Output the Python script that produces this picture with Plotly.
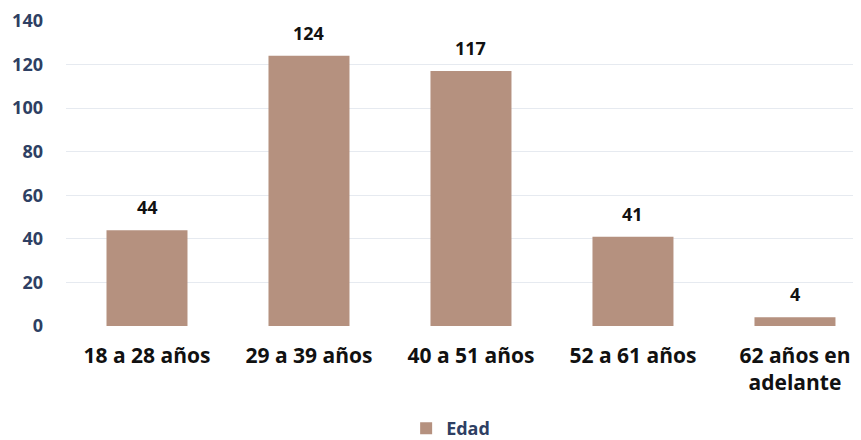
import plotly.graph_objects as go

categories = ["18 a 28 años", "29 a 39 años", "40 a 51 años", "52 a 61 años", "62 años en<br>adelante"]
values = [44, 124, 117, 41, 4]
series_name = "Edad"
y_ticks = [0, 20, 40, 60, 80, 100, 120, 140]

BAR = "#b5917f"
NAVY = "#2e3f63"

fig = go.Figure()
fig.add_trace(go.Bar(
    x=categories, y=values, name=series_name,
    marker=dict(color=BAR, line=dict(width=0)),
))

for c, v in zip(categories, values):
    fig.add_annotation(x=c, y=v, text=str(v), showarrow=False, yanchor="middle", yshift=23,
                       font=dict(family="Open Sans", size=18, color="#111111", weight="bold"))

fig.update_layout(
    width=861, height=440,
    margin=dict(l=58, r=0, t=13, b=122, autoexpand=False),
    paper_bgcolor="white", plot_bgcolor="white",
    bargap=0.5,
    font=dict(family="Open Sans", color="#111111"),
    showlegend=True,
    legend=dict(orientation="h", x=0.479, xanchor="center", y=-0.336, yanchor="middle",
                font=dict(family="Open Sans", size=18, color=NAVY, weight="bold")),
    xaxis=dict(range=[-0.5, 4.457],
               tickfont=dict(family="Open Sans", size=21, color="#111111", weight="bold"),
               showline=False, ticks="", showgrid=False, ticklabelstandoff=15),
    yaxis=dict(range=[0, 140], tickvals=y_ticks, showgrid=True, gridcolor="#e6eaf0",
               zeroline=False, ticks="", ticklabelstandoff=22,
               tickfont=dict(family="Open Sans", size=18, color=NAVY, weight="bold")),
)

fig.write_html("out.html")
